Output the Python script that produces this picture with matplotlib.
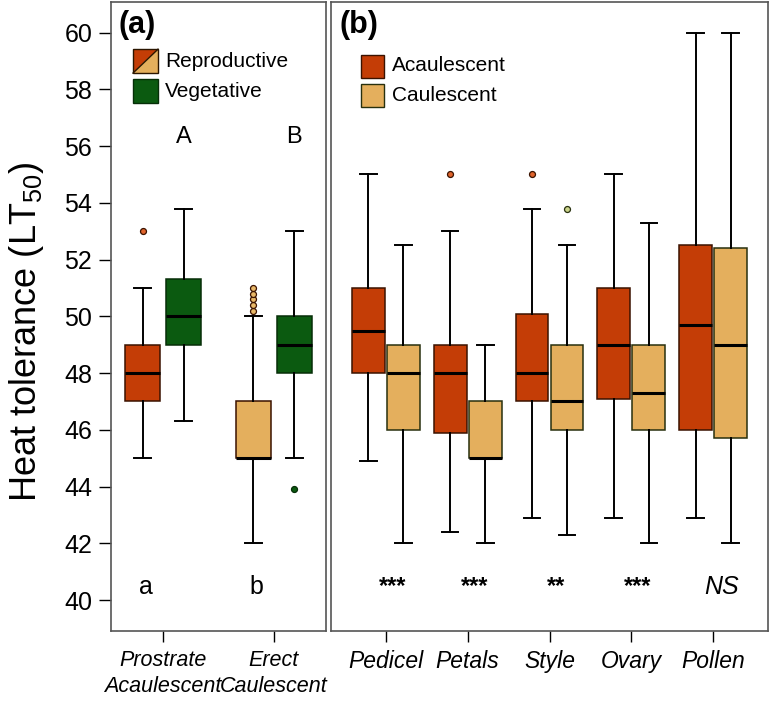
import matplotlib
matplotlib.use("Agg")
import matplotlib.pyplot as plt
from matplotlib.patches import Rectangle, Polygon

plt.rcParams['font.family'] = ['Liberation Sans', 'DejaVu Sans']
plt.rcParams['mathtext.fontset'] = 'custom'
plt.rcParams['mathtext.rm'] = 'Liberation Sans'
plt.rcParams['mathtext.it'] = 'Liberation Sans:italic'
plt.rcParams['mathtext.bf'] = 'Liberation Sans:bold'
plt.rcParams['mathtext.default'] = 'regular'

# ---------------- data: panel (a) ----------------
habit_labels = ["Prostrate\nAcaulescent", "Erect\nCaulescent"]
habit_pos = [1, 2]
repro_med = [48.0, 45.0]
repro_q1 = [47.0, 45.0]
repro_q3 = [49.0, 47.0]
repro_lo = [45.0, 42.0]
repro_hi = [51.0, 50.0]
repro_fliers = [[53.0], [50.2, 50.4, 50.6, 50.8, 51.0]]
veg_med = [50.0, 49.0]
veg_q1 = [49.0, 48.0]
veg_q3 = [51.3, 50.0]
veg_lo = [46.3, 45.0]
veg_hi = [53.8, 53.0]
veg_fliers = [[], [43.9]]
letters_lower = ["a", "b"]
letters_upper = ["A", "B"]

# ---------------- data: panel (b) ----------------
organs = ["Pedicel", "Petals", "Style", "Ovary", "Pollen"]
organ_pos = [1, 2, 3, 4, 5]
acaul_med = [49.5, 48.0, 48.0, 49.0, 49.7]
acaul_q1 = [48.0, 45.9, 47.0, 47.1, 46.0]
acaul_q3 = [51.0, 49.0, 50.1, 51.0, 52.5]
acaul_lo = [44.9, 42.4, 42.9, 42.9, 42.9]
acaul_hi = [55.0, 53.0, 53.8, 55.0, 60.0]
acaul_fliers = [[], [55.0], [55.0], [], []]
caul_med = [48.0, 45.0, 47.0, 47.3, 49.0]
caul_q1 = [46.0, 45.0, 46.0, 46.0, 45.7]
caul_q3 = [49.0, 47.0, 49.0, 49.0, 52.4]
caul_lo = [42.0, 42.0, 42.3, 42.0, 42.0]
caul_hi = [52.5, 49.0, 52.5, 53.3, 60.0]
caul_fliers = [[], [], [53.8], [], []]
signif = ["***", "***", "**", "***", "NS"]

yticks = [40, 42, 44, 46, 48, 50, 52, 54, 56, 58, 60]

# ---------------- colours ----------------
RED = '#C43D06'
RED_EDGE = '#3A1200'
RED_FLIER = '#E0642C'
TAN = '#E4AF5D'
TAN_EDGE = '#28300E'
TAN_FLIER = '#E8B868'
TAN_FLIER2 = '#CBD48A'
GREEN = '#0B5A10'
GREEN_EDGE = '#062E08'
SPINE = '#555555'


def stats(med, q1, q3, lo, hi, fl):
    return [dict(med=m, q1=a, q3=b, whislo=l, whishi=h, fliers=f)
            for m, a, b, l, h, f in zip(med, q1, q3, lo, hi, fl)]


def draw(ax, st, pos, width, capw, faces, edges, flier_faces):
    res = ax.bxp(st, positions=pos, widths=width, capwidths=capw,
                 patch_artist=True, manage_ticks=False,
                 boxprops=dict(linewidth=1.1),
                 medianprops=dict(color='black', linewidth=2.2, solid_capstyle='butt'),
                 whiskerprops=dict(color='black', linewidth=1.4),
                 capprops=dict(color='black', linewidth=1.4),
                 flierprops=dict(marker='o', markersize=4.3, markeredgewidth=0.9))
    for i, b in enumerate(res['boxes']):
        b.set_facecolor(faces[i])
        b.set_edgecolor(edges[i])
    for i, f in enumerate(res['fliers']):
        f.set_markerfacecolor(flier_faces[i])
        f.set_markeredgecolor(edges[i])
    return res


fig = plt.figure(figsize=(7.72, 7.06), dpi=100)
W, H = 772.0, 706.0
bottom_px, top_px = 631.0, 2.0
ax_a = fig.add_axes([111 / W, (H - bottom_px) / H, 215 / W, (bottom_px - top_px) / H])
ax_b = fig.add_axes([331 / W, (H - bottom_px) / H, 437 / W, (bottom_px - top_px) / H])

YLIM = (38.91, 61.08)

# ---------- panel (a) ----------
off_a = 0.185
draw(ax_a, stats(repro_med, repro_q1, repro_q3, repro_lo, repro_hi, repro_fliers),
     [p - off_a for p in habit_pos], 0.31, 0.155,
     [RED, TAN], [RED_EDGE, RED_EDGE], [RED_FLIER, TAN_FLIER])
draw(ax_a, stats(veg_med, veg_q1, veg_q3, veg_lo, veg_hi, veg_fliers),
     [p + off_a for p in habit_pos], 0.31, 0.155,
     [GREEN, GREEN], [GREEN_EDGE, GREEN_EDGE], [GREEN, GREEN])
for p, lo_, up_ in zip(habit_pos, letters_lower, letters_upper):
    ax_a.text(p - off_a + 0.03, 40.22, lo_, ha='center', va='baseline', fontsize=18)
    ax_a.text(p + off_a, 56.12, up_, ha='center', va='baseline', fontsize=17)

ax_a.set_xlim(0.53, 2.47)
ax_a.set_ylim(*YLIM)
ax_a.set_yticks(yticks)
ax_a.set_xticks(habit_pos)
ax_a.set_xticklabels(habit_labels, fontstyle='italic', fontsize=15.5, linespacing=1.3)
ax_a.tick_params(axis='y', direction='out', length=8.5, width=1.0, pad=5, labelsize=18)
ax_a.tick_params(axis='x', direction='out', length=8, width=1.0, pad=6)

ax_a.text(0.035, 0.963, "(a)", transform=ax_a.transAxes, fontsize=22,
          fontweight='bold', ha='left', va='center')
# legend (a)
x0, x1 = 0.1023, 0.2186
y0, y1 = 0.887, 0.925
ax_a.add_patch(Polygon([(x0, y0), (x0, y1), (x1, y1)], closed=True, transform=ax_a.transAxes,
                       facecolor=RED, edgecolor='none'))
ax_a.add_patch(Polygon([(x0, y0), (x1, y0), (x1, y1)], closed=True, transform=ax_a.transAxes,
                       facecolor=TAN, edgecolor='none'))
ax_a.plot([x0, x1], [y0, y1], transform=ax_a.transAxes, color='#2a1500', lw=1.0)
ax_a.add_patch(Rectangle((x0, y0), x1 - x0, y1 - y0, transform=ax_a.transAxes,
                         facecolor='none', edgecolor='#2a1500', lw=1.0))
ax_a.add_patch(Rectangle((x0, 0.8394), x1 - x0, 0.0382, transform=ax_a.transAxes,
                         facecolor=GREEN, edgecolor=GREEN_EDGE, lw=1.0))
ax_a.text(0.251, 0.906, "Reproductive", transform=ax_a.transAxes, fontsize=15,
          ha='left', va='center')
ax_a.text(0.251, 0.8585, "Vegetative", transform=ax_a.transAxes, fontsize=15,
          ha='left', va='center')

# ---------- panel (b) ----------
off_b = 0.214
draw(ax_b, stats(acaul_med, acaul_q1, acaul_q3, acaul_lo, acaul_hi, acaul_fliers),
     [p - off_b for p in organ_pos], 0.40, 0.204,
     [RED] * 5, [RED_EDGE] * 5, [RED_FLIER] * 5)
draw(ax_b, stats(caul_med, caul_q1, caul_q3, caul_lo, caul_hi, caul_fliers),
     [p + off_b for p in organ_pos], 0.40, 0.204,
     [TAN] * 5, [TAN_EDGE] * 5, [TAN_FLIER2] * 5)
for p, s in zip(organ_pos, signif):
    if s == 'NS':
        ax_b.text(p + 0.1, 40.2, s, ha='center', va='baseline', fontsize=18, fontstyle='italic')
    else:
        ax_b.text(p + 0.08, 40.25, s, ha='center', va='baseline', fontsize=17, fontweight='bold')

ax_b.set_xlim(0.33, 5.67)
ax_b.set_ylim(*YLIM)
ax_b.set_yticks([])
ax_b.set_xticks(organ_pos)
ax_b.set_xticklabels(organs, fontstyle='italic', fontsize=16.5)
ax_b.tick_params(axis='x', direction='out', length=8, width=1.0, pad=6)

ax_b.text(0.02, 0.963, "(b)", transform=ax_b.transAxes, fontsize=22,
          fontweight='bold', ha='left', va='center')
bx0, bw = 0.0686, 0.0527
ax_b.add_patch(Rectangle((bx0, 0.8792), bw, 0.0365, transform=ax_b.transAxes,
                         facecolor=RED, edgecolor=RED_EDGE, lw=1.0))
ax_b.add_patch(Rectangle((bx0, 0.833), bw, 0.0365, transform=ax_b.transAxes,
                         facecolor=TAN, edgecolor=TAN_EDGE, lw=1.0))
ax_b.text(0.1396, 0.8983, "Acaulescent", transform=ax_b.transAxes, fontsize=15,
          ha='left', va='center')
ax_b.text(0.1396, 0.8506, "Caulescent", transform=ax_b.transAxes, fontsize=15,
          ha='left', va='center')

for ax in (ax_a, ax_b):
    for sp in ax.spines.values():
        sp.set_color(SPINE)
        sp.set_linewidth(1.2)

fig.text(27 / W, (H - 332) / H, "Heat tolerance (LT$_{50}$)", rotation=90,
         ha='center', va='center', fontsize=26)

fig.savefig("out.png", dpi=100)
